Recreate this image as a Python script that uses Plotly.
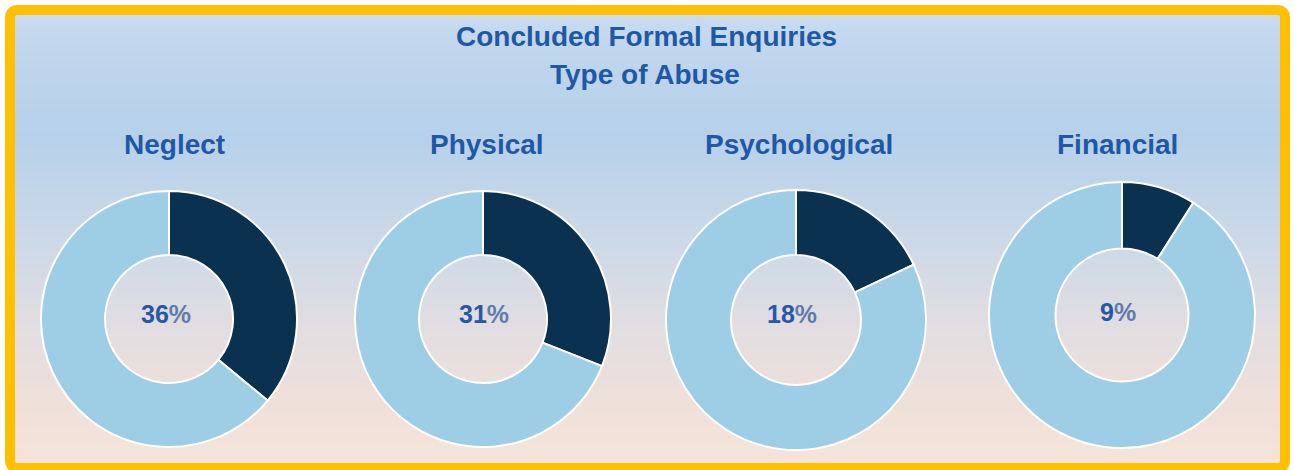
import plotly.graph_objects as go

W, H = 1293, 470

# ---- data ----
categories = ["Neglect", "Physical", "Psychological", "Financial"]
percentages = [36, 31, 18, 9]
title_lines = ["Concluded Formal Enquiries", "Type of Abuse"]

# ---- layout helpers (pixel positions) ----
centers = [(169, 319), (483, 319), (796, 320), (1122, 315)]
radii = [128, 128, 130, 133]
label_pos = [(174, 144), (487, 144), (799, 144), (1117, 144)]
pct_pos = [(166, 314), (484, 314), (792, 314), (1118, 312)]

DARK = "#0b3150"
LIGHT = "#9ecde6"
TXT = "#1f59a6"
FONT = "Liberation Sans, Arial, sans-serif"


def px(x):
    return x / W


def py(y):
    return 1 - y / H


fig = go.Figure()

for i, (cat, p) in enumerate(zip(categories, percentages)):
    cx, cy = centers[i]
    r = radii[i]
    fig.add_trace(go.Pie(
        values=[p, 100 - p],
        labels=[cat, "Other"],
        hole=0.5,
        sort=False,
        direction="clockwise",
        rotation=0,
        textinfo="none",
        marker=dict(colors=[DARK, LIGHT], line=dict(color="white", width=2)),
        domain=dict(x=[px(cx - r), px(cx + r)], y=[py(cy + r), py(cy - r)]),
        showlegend=False,
        hoverinfo="label+percent",
    ))

# ---- gradient background via thin bands ----
stops = [
    (12, (202, 220, 240)),
    (60, (190, 213, 236)),
    (140, (183, 209, 234)),
    (230, (202, 216, 233)),
    (320, (224, 221, 226)),
    (400, (239, 224, 218)),
    (468, (246, 228, 217)),
]


def col_at(y):
    for (y0, c0), (y1, c1) in zip(stops[:-1], stops[1:]):
        if y0 <= y <= y1:
            t = (y - y0) / (y1 - y0)
            return "rgb(%d,%d,%d)" % tuple(round(a + (b - a) * t) for a, b in zip(c0, c1))
    return "rgb(%d,%d,%d)" % stops[-1][1]


shapes = []
step = 4
y = 10
while y < 468:
    shapes.append(dict(
        type="rect", xref="paper", yref="paper", layer="below",
        x0=px(10), x1=px(1285), y0=py(min(y + step + 1, 468)), y1=py(y),
        fillcolor=col_at(y + step / 2), line=dict(width=0),
    ))
    y += step

# rounded border
bx0, by0, bx1, by1, rc = 10, 10, 1285, 468, 8
path = (
    f"M {px(bx0 + rc)},{py(by0)} L {px(bx1 - rc)},{py(by0)} "
    f"Q {px(bx1)},{py(by0)} {px(bx1)},{py(by0 + rc)} "
    f"L {px(bx1)},{py(by1 - rc)} Q {px(bx1)},{py(by1)} {px(bx1 - rc)},{py(by1)} "
    f"L {px(bx0 + rc)},{py(by1)} Q {px(bx0)},{py(by1)} {px(bx0)},{py(by1 - rc)} "
    f"L {px(bx0)},{py(by0 + rc)} Q {px(bx0)},{py(by0)} {px(bx0 + rc)},{py(by0)} Z"
)
shapes.append(dict(type="path", xref="paper", yref="paper", layer="above",
                   path=path, line=dict(color="#FFC000", width=10),
                   fillcolor="rgba(0,0,0,0)"))


def ann(text, x, y, size, color=TXT):
    return dict(text=text, x=px(x), y=py(y), xref="paper", yref="paper",
                xanchor="center", yanchor="middle", showarrow=False,
                font=dict(family=FONT, size=size, color=color))


annotations = [
    ann("<b>%s</b>" % title_lines[0], 646, 37, 28),
    ann("<b>%s</b>" % title_lines[1], 645, 74, 28),
]
for i, (cat, p) in enumerate(zip(categories, percentages)):
    lx, ly = label_pos[i]
    annotations.append(ann("<b>%s</b>" % cat, lx, ly, 28))
    tx, ty = pct_pos[i]
    annotations.append(ann("<b>%d<span style='color:#5f7bac'>%%</span></b>" % p,
                           tx, ty, 25, "#2658a6"))

fig.update_layout(
    width=W, height=H,
    margin=dict(l=0, r=0, t=0, b=0),
    paper_bgcolor="white",
    plot_bgcolor="white",
    shapes=shapes,
    annotations=annotations,
)

fig.write_html(
    "out.html",
    config={"displayModeBar": False},
    post_script="document.body.style.margin='0';document.body.style.overflow='hidden';",
)
